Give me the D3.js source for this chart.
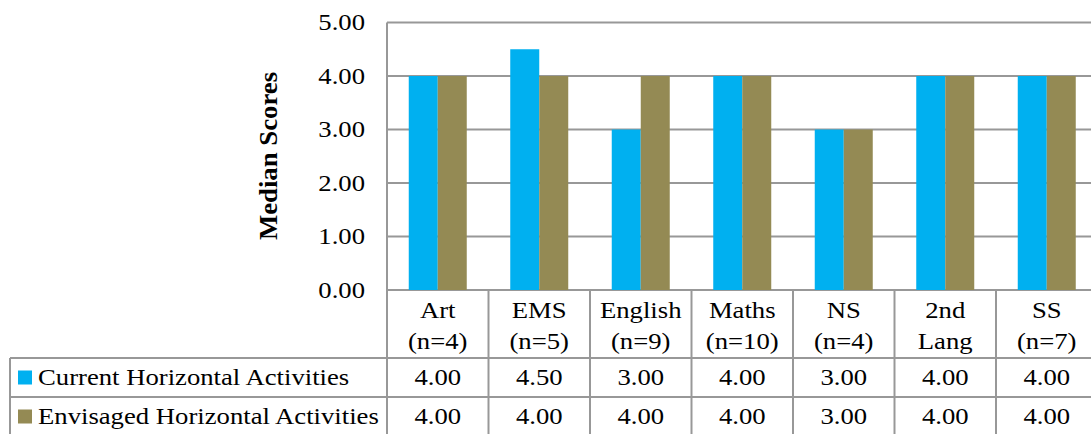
<!DOCTYPE html>
<meta charset="utf-8">
<script src="https://cdn.jsdelivr.net/npm/d3@7"></script>
<style>
body { margin: 0; background: #fff; }
svg { display: block; }
</style>
<body>
<script>

var categories = ["Art", "EMS", "English", "Maths", "NS", "2nd Lang", "SS"]
var category_lines = [["Art", "(n=4)"], ["EMS", "(n=5)"], ["English", "(n=9)"], ["Maths", "(n=10)"], ["NS", "(n=4)"], ["2nd", "Lang"], ["SS", "(n=7)"]]
var series_names = ["Current Horizontal Activities", "Envisaged Horizontal Activities"]
var series_colors = ["#00b0f0", "#948a54"]
var current_values = [4.00, 4.50, 3.00, 4.00, 3.00, 4.00, 4.00]
var envisaged_values = [4.00, 4.00, 4.00, 4.00, 3.00, 4.00, 4.00]
var y_ticks = [0, 1, 2, 3, 4, 5]

var series_values = [current_values, envisaged_values]

var width = 1091
var height = 434
var plot_left = 387
var plot_top = 22.5
var plot_bottom = 290
var band = 101.5
var bar_w = 29
var grid_color = "#989898"
var font = "'Liberation Serif'"

var svg = d3.select("body").append("svg")
            .attr("width", width)
            .attr("height", height)

// widen glyphs a little, the reference text is horizontally stretched
function widen(sel, k) {
  sel.each(function() {
    var w = this.getComputedTextLength()
    d3.select(this).attr("textLength", w * (k || 1.16)).attr("lengthAdjust", "spacingAndGlyphs")
  })
}

var x = d3.scaleBand()
          .domain(categories)
          .range([plot_left, plot_left + band * categories.length])
          .padding(0)

var xs = d3.scaleBand()
           .domain(series_names)
           .range([(band - 2 * bar_w) / 2, (band + 2 * bar_w) / 2])
           .padding(0)

var y = d3.scaleLinear()
          .domain([0, 5])
          .range([plot_bottom, plot_top])

// gridlines
svg.append("g").selectAll("line")
   .data(y_ticks)
   .enter().append("line")
   .attr("x1", plot_left)
   .attr("x2", x.range()[1])
   .attr("y1", function(d) { return y(d) })
   .attr("y2", function(d) { return y(d) })
   .style("stroke", grid_color)
   .style("stroke-width", 2)

// tick labels
svg.append("g").selectAll("text")
   .data(y_ticks)
   .enter().append("text")
   .attr("x", 365)
   .attr("y", function(d) { return y(d) })
   .attr("dy", "0.33em")
   .style("font-family", font)
   .style("font-size", "23px")
   .style("text-anchor", "end")
   .text(function(d) { return d3.format(".2f")(d) })
   .call(widen)

svg.append("text")
   .attr("transform", "translate(" + 277 + "," + 156 + ") rotate(-90)")
   .style("font-family", font)
   .style("font-size", "25px")
   .style("font-weight", "bold")
   .style("text-anchor", "middle")
   .text("Median Scores")
   .call(widen, 1.07)

// bars
series_names.forEach(function(name, si) {
  svg.append("g").selectAll("rect")
     .data(series_values[si])
     .enter().append("rect")
     .attr("x", function(d, i) { return x(categories[i]) + xs(name) })
     .attr("width", xs.bandwidth())
     .attr("y", function(d) { return y(d) })
     .attr("height", function(d) { return y(0) - y(d) })
     .style("fill", series_colors[si])
})

// left axis line
svg.append("line")
   .attr("x1", plot_left).attr("x2", plot_left)
   .attr("y1", plot_top).attr("y2", height)
   .style("stroke", grid_color)
   .style("stroke-width", 2)

// data table
var row_top = [358, 397]
var row_h = 39
var table = svg.append("g")

// column dividers
table.selectAll(".col_line")
     .data(categories)
     .enter().append("line")
     .attr("x1", function(d) { return x(d) + band })
     .attr("x2", function(d) { return x(d) + band })
     .attr("y1", plot_bottom)
     .attr("y2", height)
     .style("stroke", grid_color)
     .style("stroke-width", 2)

// row lines
table.selectAll(".row_line")
     .data([row_top[0], row_top[1], row_top[1] + row_h])
     .enter().append("line")
     .attr("x1", 10)
     .attr("x2", x.range()[1])
     .attr("y1", function(d) { return d })
     .attr("y2", function(d) { return d })
     .style("stroke", grid_color)
     .style("stroke-width", 2)

table.append("line")
     .attr("x1", 10).attr("x2", 10)
     .attr("y1", row_top[0]).attr("y2", height)
     .style("stroke", grid_color)
     .style("stroke-width", 2)

// header labels
category_lines.forEach(function(lines, i) {
  var cx = x(categories[i]) + band / 2
  lines.forEach(function(t, li) {
    table.append("text")
         .attr("x", cx)
         .attr("y", 310 + li * 31)
         .attr("dy", "0.33em")
         .style("font-family", font)
         .style("font-size", "23px")
         .style("text-anchor", "middle")
         .text(t)
         .call(widen)
  })
})

// legend + values
series_names.forEach(function(name, si) {
  var cy = row_top[si] + row_h / 2
  table.append("rect")
       .attr("x", 18)
       .attr("y", cy - 7)
       .attr("width", 14)
       .attr("height", 14)
       .style("fill", series_colors[si])
  table.append("text")
       .attr("x", 38)
       .attr("y", cy)
       .attr("dy", "0.33em")
       .style("font-family", font)
       .style("font-size", "23px")
       .text(name)
       .call(widen)
  table.selectAll(".val" + si)
       .data(series_values[si])
       .enter().append("text")
       .attr("x", function(d, i) { return x(categories[i]) + band / 2 })
       .attr("y", cy)
       .attr("dy", "0.33em")
       .style("font-family", font)
       .style("font-size", "23px")
       .style("text-anchor", "middle")
       .text(function(d) { return d3.format(".2f")(d) })
       .call(widen)
})

</script>
</body>
